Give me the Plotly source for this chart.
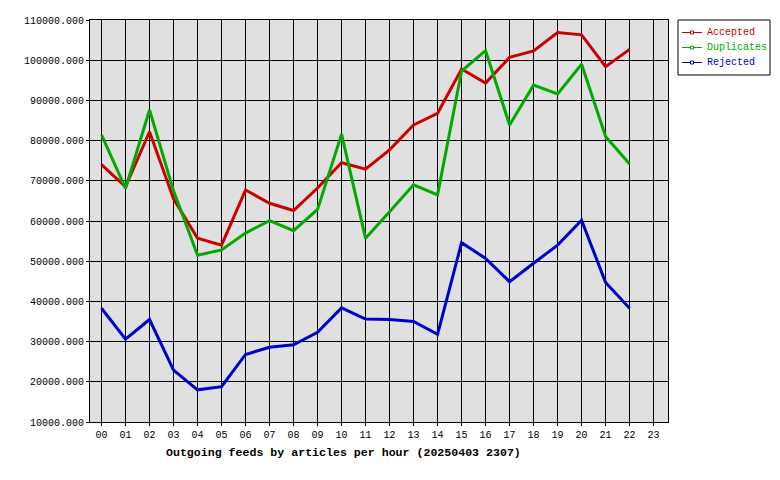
import plotly.graph_objects as go

# hourly outgoing feed counts
hours = list(range(23))
hour_labels = ["%02d" % h for h in range(24)]

accepted = [74000, 68500, 82200, 65500, 55700, 54000, 67700, 64400, 62600, 68200,
            74500, 72900, 77700, 83900, 86800, 97800, 94300, 100700, 102300, 106900,
            106300, 98400, 102700]
duplicates = [81400, 68100, 87600, 67500, 51500, 52800, 57000, 60100, 57600, 62900,
              81600, 55700, 62300, 69000, 66500, 97300, 102400, 83900, 93800, 91600,
              99000, 81000, 74200]
rejected = [38300, 30600, 35500, 22900, 18000, 18800, 26800, 28600, 29200, 32300,
            38400, 35600, 35500, 35000, 31800, 54600, 50700, 44900, 49500, 54000,
            60200, 44700, 38300]

names = ["Accepted", "Duplicates", "Rejected"]
colors = ["#cc0000", "#00aa00", "#0000cc"]
title = "Outgoing feeds by articles per hour (20250403 2307)"

mono = "Liberation Mono, DejaVu Sans Mono, monospace"

# page has an 8px body margin, so the figure is a bit smaller than the window
W, H = 772, 472
L, R, T, B = 82, 112, 12, 58
PW, PH = W - L - R, H - T - B


def px(x):
    # pixel offset from plot left -> paper x
    return x / PW


def py(y):
    # pixel offset from plot top -> paper y
    return 1 - y / PH


fig = go.Figure()

for name, vals, col in zip(names, [accepted, duplicates, rejected], colors):
    fig.add_trace(go.Scatter(x=hours, y=vals, mode="lines", name=name,
                             showlegend=False, line=dict(color=col, width=3)))

# hand-made legend box, like the original
shapes = [dict(type="rect", xref="paper", yref="paper",
               x0=px(588), x1=px(680), y0=py(55), y1=py(0),
               fillcolor="white", line=dict(color="black", width=1))]
annotations = []
for i, (name, col) in enumerate(zip(names, colors)):
    yy = 12.5 + 15 * i
    shapes.append(dict(type="line", xref="paper", yref="paper",
                       x0=px(592), x1=px(612), y0=py(yy), y1=py(yy),
                       line=dict(color=col, width=1)))
    shapes.append(dict(type="rect", xref="paper", yref="paper",
                       x0=px(600.5), x1=px(603.5), y0=py(yy + 1.5), y1=py(yy - 1.5),
                       fillcolor="white", line=dict(color=col, width=1)))
    annotations.append(dict(text=name, xref="paper", yref="paper",
                            x=px(615), y=py(yy), xanchor="left", yanchor="middle",
                            showarrow=False, font=dict(family=mono, size=10, color=col)))

annotations.append(dict(text="<b>%s</b>" % title, xref="paper", yref="paper",
                        x=px(253), y=py(PH + 30), xanchor="center", yanchor="middle",
                        showarrow=False, font=dict(family=mono, size=11.6, color="black")))

fig.update_layout(
    width=W, height=H,
    margin=dict(l=L, r=R, t=T, b=B, autoexpand=False),
    paper_bgcolor="white",
    plot_bgcolor="#e0e0e0",
    font=dict(family=mono, size=10, color="black"),
    showlegend=False,
    shapes=shapes,
    annotations=annotations,
    xaxis=dict(range=[-0.48, 23.6], tickvals=list(range(24)), ticktext=hour_labels,
               showgrid=True, gridcolor="black", gridwidth=1,
               ticks="outside", ticklen=3, tickcolor="black",
               showline=True, linecolor="black", linewidth=1, mirror=True,
               zeroline=False, automargin=False),
    yaxis=dict(range=[10000, 110000], dtick=10000, tickformat=".3f",
               showgrid=True, gridcolor="black", gridwidth=1,
               ticks="outside", ticklen=3, tickcolor="black",
               showline=True, linecolor="black", linewidth=1, mirror=True,
               zeroline=False, automargin=False),
)

fig.write_html("out.html")
